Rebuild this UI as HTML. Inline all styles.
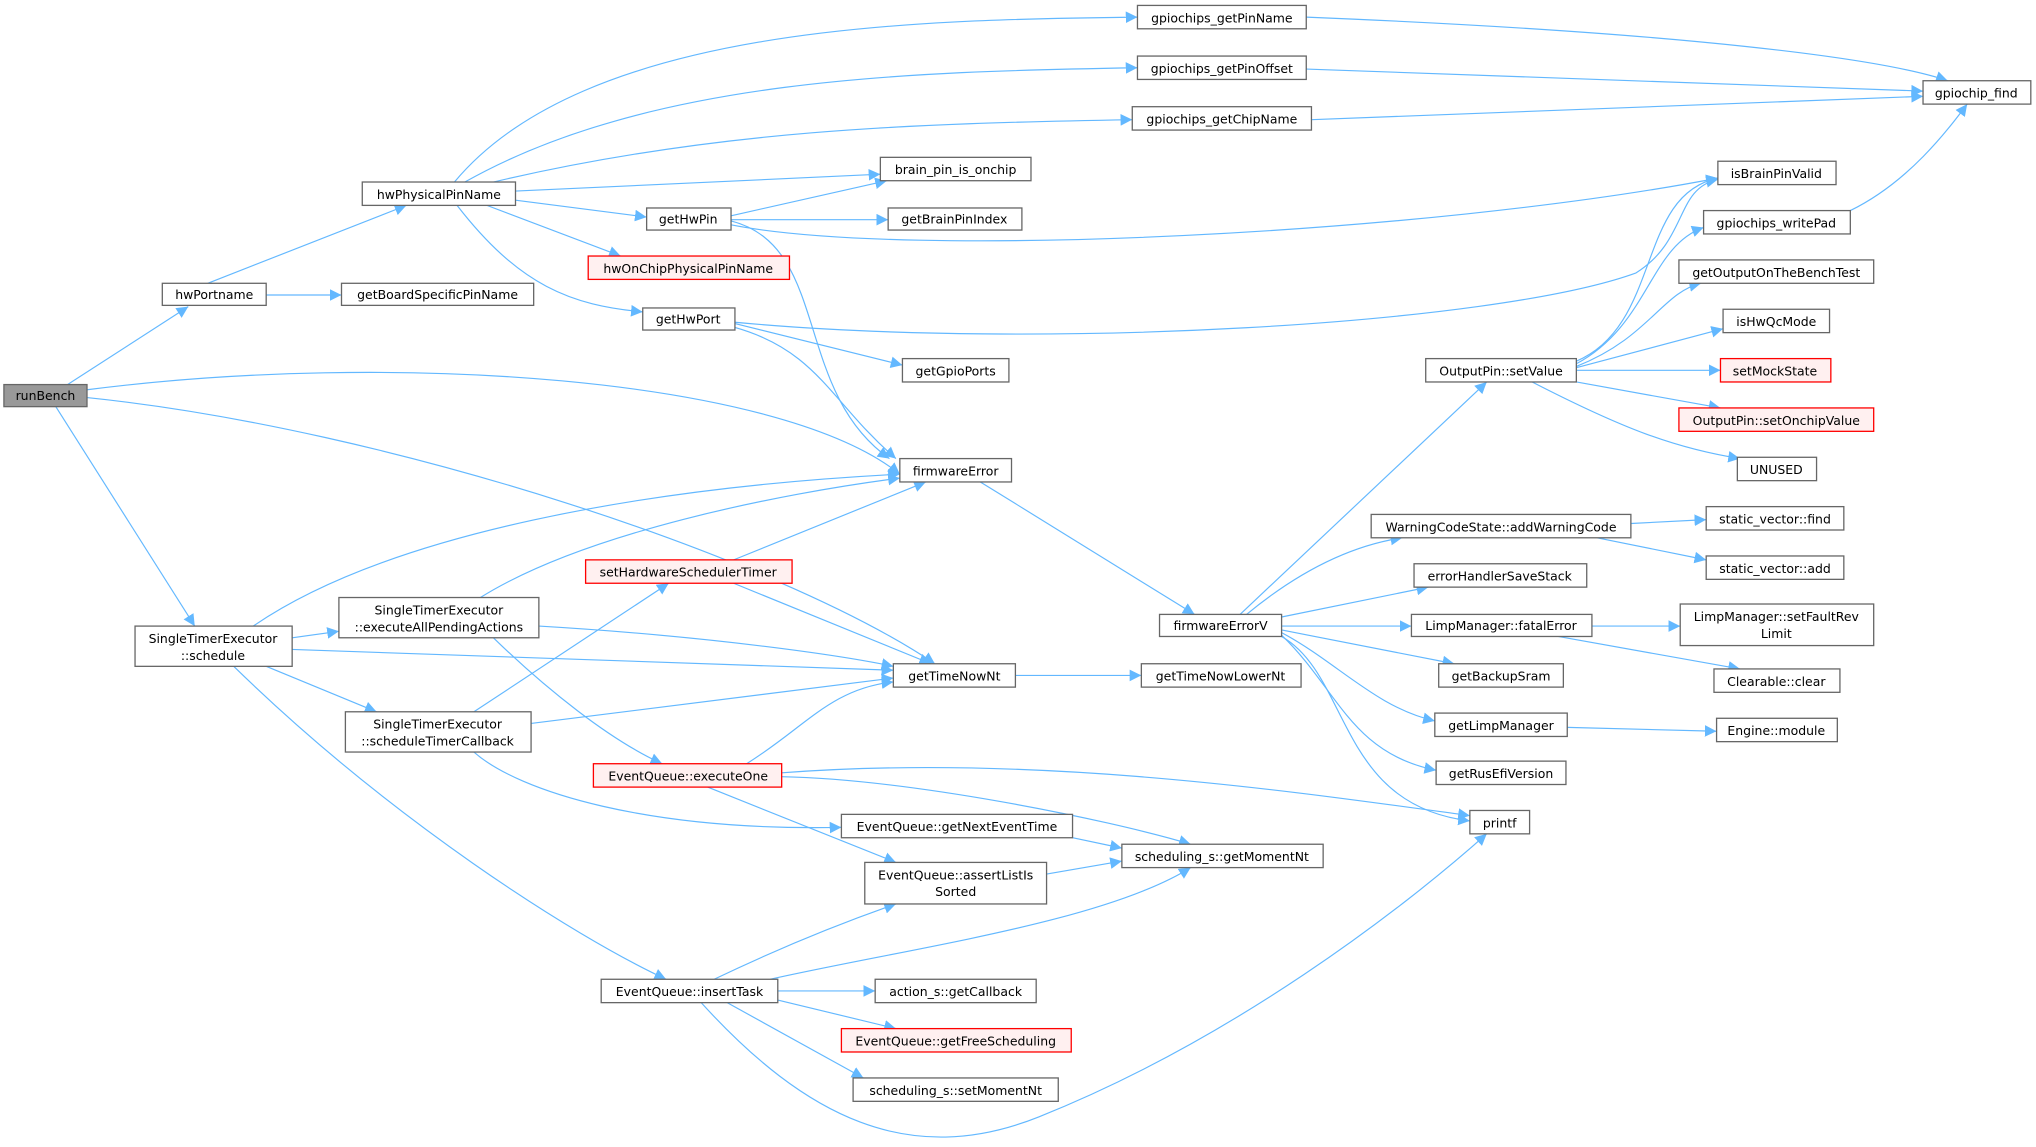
<!DOCTYPE html>
<html><head><meta charset="utf-8"><style>
html,body{margin:0;padding:0;background:#fff;}
svg{display:block;}
text{font-family:"DejaVu Sans","Liberation Sans",sans-serif;font-size:9.6px;fill:#000;}
.n{fill:#fff;stroke:#666;stroke-width:1;}
.r{fill:#fff0f0;stroke:#ff0000;stroke-width:1;}
.g{fill:#999;stroke:#666;stroke-width:1;}
path.e{fill:none;stroke:#63b8ff;stroke-width:0.9;marker-end:url(#a);}
</style></head><body>
<svg width="2036" height="1147" viewBox="0 0 1568 883" xmlns="http://www.w3.org/2000/svg">
<defs><marker id="a" viewBox="0 0 10 10" refX="10" refY="5" markerWidth="9" markerHeight="9" markerUnits="userSpaceOnUse" orient="auto"><path d="M0,0 L10,5 L0,10 z" fill="#63b8ff"/></marker></defs>
<g>
<path class="e" d="M52,296 L145,236"/>
<path class="e" d="M67,300 C300,270 600,290 693,365"/>
<path class="e" d="M67,306 C300,330 600,430 720,511"/>
<path class="e" d="M43,313 L150,482"/>
<path class="e" d="M160,218 L313,158"/>
<path class="e" d="M205,227 L263,227"/>
<path class="e" d="M350,140 C450,20 700,15 876,13"/>
<path class="e" d="M358,140 C500,60 700,55 876,52"/>
<path class="e" d="M380,140 C550,100 700,95 872,92"/>
<path class="e" d="M397,147 L678,134"/>
<path class="e" d="M397,154 L498,167"/>
<path class="e" d="M375,158 L478,197"/>
<path class="e" d="M352,158 C400,220 440,235 495,240"/>
<path class="e" d="M563,166 L683,139"/>
<path class="e" d="M563,169 L684,169"/>
<path class="e" d="M563,173 C700,200 1100,180 1323,137"/>
<path class="e" d="M563,170 C640,190 610,300 685,353"/>
<path class="e" d="M566,248 C800,270 1150,250 1260,210 C1300,185 1290,145 1323,138"/>
<path class="e" d="M566,249 L695,281"/>
<path class="e" d="M566,252 C630,270 640,310 690,353"/>
<path class="e" d="M1006,13 C1300,25 1450,45 1500,62"/>
<path class="e" d="M1006,53 L1481,70"/>
<path class="e" d="M1010,92 L1481,74"/>
<path class="e" d="M1425,162 C1470,140 1500,100 1515,80"/>
<path class="e" d="M1214,278 C1280,250 1260,150 1323,137"/>
<path class="e" d="M1214,280 C1270,250 1270,190 1312,175"/>
<path class="e" d="M1214,282 C1270,260 1280,225 1310,218"/>
<path class="e" d="M1214,283 L1327,253"/>
<path class="e" d="M1214,285 L1325,285"/>
<path class="e" d="M1214,294 L1325,314"/>
<path class="e" d="M1180,294 C1250,330 1290,345 1340,353"/>
<path class="e" d="M755,371 L920,473"/>
<path class="e" d="M955,473 L1145,294"/>
<path class="e" d="M960,473 C1000,440 1040,420 1080,414"/>
<path class="e" d="M987,475 L1100,452"/>
<path class="e" d="M987,482 L1087,482"/>
<path class="e" d="M987,485 L1120,511"/>
<path class="e" d="M987,487 C1030,510 1060,545 1105,555"/>
<path class="e" d="M987,489 C1030,530 1040,580 1106,593"/>
<path class="e" d="M987,490 C1040,520 1030,620 1132,632"/>
<path class="e" d="M1256,403 L1314,400"/>
<path class="e" d="M1230,414 L1314,431"/>
<path class="e" d="M1226,482 L1294,482"/>
<path class="e" d="M1200,490 L1340,515"/>
<path class="e" d="M1207,560 L1322,563"/>
<path class="e" d="M782,520 L879,520"/>
<path class="e" d="M195,482 C300,410 500,375 693,365"/>
<path class="e" d="M225,491 L261,486"/>
<path class="e" d="M225,500 L688,516"/>
<path class="e" d="M205,513 L290,548"/>
<path class="e" d="M180,513 C300,630 440,720 513,754"/>
<path class="e" d="M370,460 C450,410 600,380 693,368"/>
<path class="e" d="M415,482 C550,490 650,505 688,513"/>
<path class="e" d="M380,491 C420,530 470,570 510,588"/>
<path class="e" d="M365,548 L515,449"/>
<path class="e" d="M409,557 L688,522"/>
<path class="e" d="M365,579 C400,610 500,640 648,637"/>
<path class="e" d="M565,431 L713,371"/>
<path class="e" d="M565,449 L717,511"/>
<path class="e" d="M575,588 C620,560 640,530 688,525"/>
<path class="e" d="M602,595 C800,580 1000,610 1132,628"/>
<path class="e" d="M602,598 C700,600 850,630 917,650"/>
<path class="e" d="M545,606 L690,664"/>
<path class="e" d="M826,645 L864,653"/>
<path class="e" d="M806,673 L864,663"/>
<path class="e" d="M550,754 C600,730 650,710 690,696"/>
<path class="e" d="M593,754 C700,730 850,710 917,668"/>
<path class="e" d="M599,763 L674,763"/>
<path class="e" d="M599,770 L690,792"/>
<path class="e" d="M560,772 L665,830"/>
<path class="e" d="M540,772 C620,860 700,900 800,860 C950,800 1080,700 1145,642"/>
</g>
<g text-anchor="middle">
<rect class="g" x="3" y="296" width="64" height="17"/><text x="35" y="308">runBench</text>
<rect class="n" x="125" y="218" width="80" height="17"/><text x="165" y="230">hwPortname</text>
<rect class="n" x="263" y="218" width="148" height="17"/><text x="337" y="230">getBoardSpecificPinName</text>
<rect class="n" x="279" y="140" width="118" height="18"/><text x="338" y="153">hwPhysicalPinName</text>
<rect class="n" x="498" y="160" width="65" height="17"/><text x="530" y="172">getHwPin</text>
<rect class="r" x="453" y="197" width="155" height="18"/><text x="530" y="210" style="fill:#000">hwOnChipPhysicalPinName</text>
<rect class="n" x="495" y="237" width="71" height="17"/><text x="530" y="249">getHwPort</text>
<rect class="n" x="678" y="121" width="116" height="18"/><text x="736" y="134">brain_pin_is_onchip</text>
<rect class="n" x="684" y="160" width="103" height="17"/><text x="735" y="172">getBrainPinIndex</text>
<rect class="n" x="695" y="276" width="82" height="18"/><text x="736" y="289">getGpioPorts</text>
<rect class="n" x="693" y="353" width="86" height="18"/><text x="736" y="366">firmwareError</text>
<rect class="n" x="876" y="4" width="130" height="18"/><text x="941" y="17">gpiochips_getPinName</text>
<rect class="n" x="876" y="43" width="130" height="18"/><text x="941" y="56">gpiochips_getPinOffset</text>
<rect class="n" x="872" y="82" width="138" height="18"/><text x="941" y="95">gpiochips_getChipName</text>
<rect class="n" x="1481" y="62" width="83" height="18"/><text x="1522" y="75">gpiochip_find</text>
<rect class="n" x="1323" y="124" width="91" height="18"/><text x="1368" y="137">isBrainPinValid</text>
<rect class="n" x="1312" y="162" width="113" height="18"/><text x="1368" y="175">gpiochips_writePad</text>
<rect class="n" x="1293" y="200" width="150" height="18"/><text x="1368" y="213">getOutputOnTheBenchTest</text>
<rect class="n" x="1327" y="238" width="82" height="18"/><text x="1368" y="251">isHwQcMode</text>
<rect class="r" x="1325" y="276" width="85" height="18"/><text x="1367" y="289">setMockState</text>
<rect class="r" x="1293" y="314" width="150" height="18"/><text x="1368" y="327">OutputPin::setOnchipValue</text>
<rect class="n" x="1338" y="352" width="61" height="18"/><text x="1368" y="365">UNUSED</text>
<rect class="n" x="1098" y="276" width="116" height="18"/><text x="1156" y="289">OutputPin::setValue</text>
<rect class="n" x="1056" y="396" width="200" height="18"/><text x="1156" y="409">WarningCodeState::addWarningCode</text>
<rect class="n" x="1314" y="390" width="106" height="18"/><text x="1367" y="403">static_vector::find</text>
<rect class="n" x="1314" y="428" width="106" height="18"/><text x="1367" y="441">static_vector::add</text>
<rect class="n" x="1089" y="434" width="133" height="18"/><text x="1155" y="447">errorHandlerSaveStack</text>
<rect class="n" x="1087" y="473" width="139" height="17"/><text x="1156" y="485">LimpManager::fatalError</text>
<rect class="n" x="1294" y="465" width="149" height="32"/><text x="1368" y="478">LimpManager::setFaultRev</text><text x="1368" y="491">Limit</text>
<rect class="n" x="1320" y="515" width="97" height="18"/><text x="1368" y="528">Clearable::clear</text>
<rect class="n" x="1108" y="511" width="96" height="18"/><text x="1156" y="524">getBackupSram</text>
<rect class="n" x="1105" y="549" width="102" height="18"/><text x="1156" y="562">getLimpManager</text>
<rect class="n" x="1322" y="553" width="93" height="18"/><text x="1368" y="566">Engine::module</text>
<rect class="n" x="1106" y="586" width="100" height="18"/><text x="1156" y="599">getRusEfiVersion</text>
<rect class="n" x="1132" y="624" width="46" height="18"/><text x="1155" y="637">printf</text>
<rect class="n" x="893" y="473" width="94" height="17"/><text x="940" y="485">firmwareErrorV</text>
<rect class="n" x="688" y="511" width="94" height="18"/><text x="735" y="524">getTimeNowNt</text>
<rect class="n" x="879" y="511" width="123" height="18"/><text x="940" y="524">getTimeNowLowerNt</text>
<rect class="n" x="864" y="650" width="155" height="18"/><text x="941" y="663">scheduling_s::getMomentNt</text>
<rect class="n" x="648" y="627" width="178" height="18"/><text x="737" y="640">EventQueue::getNextEventTime</text>
<rect class="n" x="666" y="664" width="140" height="32"/><text x="736" y="677">EventQueue::assertListIs</text><text x="736" y="690">Sorted</text>
<rect class="n" x="674" y="754" width="124" height="18"/><text x="736" y="767">action_s::getCallback</text>
<rect class="r" x="648" y="792" width="177" height="18"/><text x="736" y="805">EventQueue::getFreeScheduling</text>
<rect class="n" x="657" y="830" width="158" height="18"/><text x="736" y="843">scheduling_s::setMomentNt</text>
<rect class="n" x="463" y="754" width="136" height="18"/><text x="531" y="767">EventQueue::insertTask</text>
<rect class="r" x="457" y="588" width="145" height="18"/><text x="530" y="601">EventQueue::executeOne</text>
<rect class="r" x="451" y="431" width="159" height="18"/><text x="530" y="444">setHardwareSchedulerTimer</text>
<rect class="n" x="261" y="460" width="154" height="31"/><text x="338" y="473">SingleTimerExecutor</text><text x="338" y="486">::executeAllPendingActions</text>
<rect class="n" x="104" y="482" width="121" height="31"/><text x="164" y="495">SingleTimerExecutor</text><text x="164" y="508">::schedule</text>
<rect class="n" x="266" y="548" width="143" height="31"/><text x="337" y="561">SingleTimerExecutor</text><text x="337" y="574">::scheduleTimerCallback</text>
</g>
</svg>
</body></html>
